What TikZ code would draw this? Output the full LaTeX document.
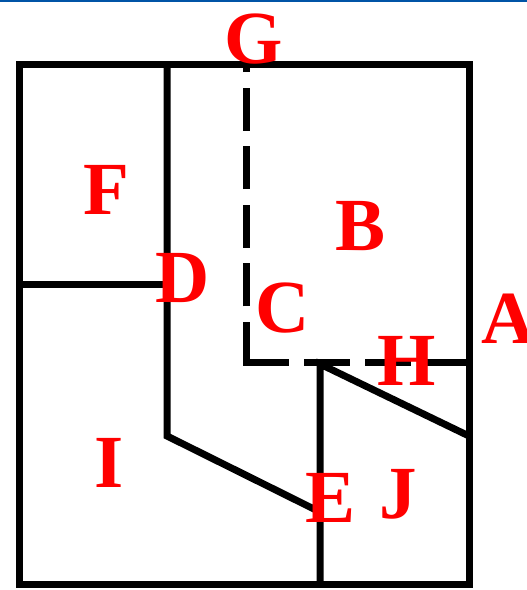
\documentclass[tikz,border=0pt]{standalone}
\usepackage{fontspec}
\setmainfont{Liberation Serif}
\usepackage{tikz}
\definecolor{topblue}{RGB}{0,84,166}
\tikzset{
  wall/.style={line width=7pt,line join=miter},
  seam/.style={line width=7pt,dash pattern=on 43pt off 15.6pt},
  lbl/.style={text=red,font=\fontsize{75}{75}\selectfont\bfseries,inner sep=0pt,anchor=base}
}
\begin{document}
\begin{tikzpicture}[x=1pt,y=-1pt]
			\useasboundingbox (0,0) rectangle (527,590);
			% thin rule along the top
			\draw[topblue,line width=1.6pt] (0,0.8)--(527,0.8);
			% outer wall
			\draw[wall] (19,64) rectangle (469,584);
			% inner walls
			\draw[wall] (167,64)--(167,436)--(320,512);
			\draw[wall] (19,284)--(167,284);
			\draw[wall] (469,436)--(320,364)--(320,584);
			% dashed seam
			\draw[seam] (246,365)--(246,64);
			\draw[seam,dash pattern=on 46pt off 15pt] (243,362)--(469,362);
			% labels
			\node[lbl] (G) at (254,63) {G};
			\node[lbl] (F) at (106,214) {F};
			\node[lbl] (B) at (361,250) {B};
			\node[lbl] (D) at (183,302) {D};
			\node[lbl] (C) at (283,332) {C};
			\node[lbl] (A) at (509,343) {A};
			\node[lbl] (H) at (407,385) {H};
			\node[lbl] (I) at (109,487) {I};
			\node[lbl] (E) at (331,522) {E};
			\node[lbl] (J) at (398,518) {J};
		\end{tikzpicture}
\end{document}
